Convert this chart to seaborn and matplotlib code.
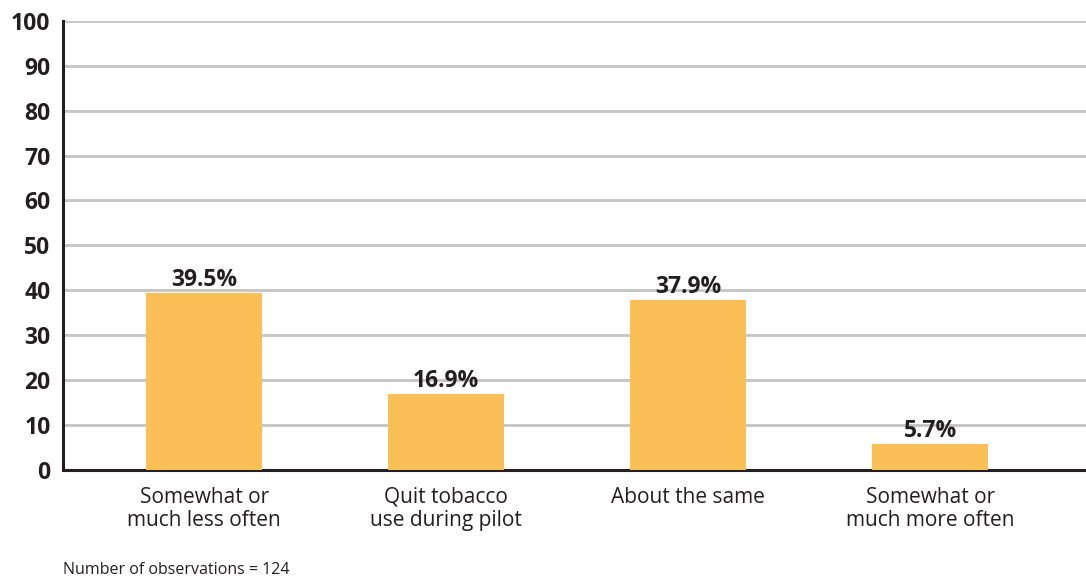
import numpy as np
import pandas as pd
import matplotlib
matplotlib.use('Agg')
import matplotlib.pyplot as plt
import seaborn as sns

categories = ['Somewhat or\nmuch less often', 'Quit tobacco\nuse during pilot',
              'About the same', 'Somewhat or\nmuch more often']
values = [39.5, 16.9, 37.9, 5.7]
value_labels = ['39.5%', '16.9%', '37.9%', '5.7%']
y_ticks = [0, 10, 20, 30, 40, 50, 60, 70, 80, 90, 100]
note = 'Number of observations = 124'

BAR_COLOR = '#FBBF57'
TEXT = '#231F20'

sns.set_theme(style='white')
plt.rcParams['font.family'] = ['Open Sans', 'DejaVu Sans']

df = pd.DataFrame({'category': categories, 'value': values})

fig = plt.figure(figsize=(10.86, 5.78), dpi=100)
ax = fig.add_axes([0.058, 0.187, 0.942, 0.777])

sns.barplot(data=df, x='category', y='value', ax=ax, color=BAR_COLOR,
            saturation=1, width=0.48, linewidth=0, zorder=3)

ax.set_ylim(0, 100)
ax.set_xlim(-0.583, 3.644)
ax.set_yticks(y_ticks)
ax.yaxis.grid(True, color='#C4C4C6', linewidth=2, zorder=0)
ax.set_axisbelow(True)

for s in ['top', 'right']:
    ax.spines[s].set_visible(False)
for s in ['left', 'bottom']:
    ax.spines[s].set_color(TEXT)
    ax.spines[s].set_linewidth(2.2)

ax.tick_params(axis='y', length=0, pad=9, labelsize=16.5, labelcolor=TEXT)
for lbl in ax.get_yticklabels():
    lbl.set_fontweight('bold')
ax.tick_params(axis='x', length=0, pad=12, labelsize=15, labelcolor=TEXT)
for lbl in ax.get_xticklabels():
    lbl.set_linespacing(1.15)
ax.set_xlabel('')
ax.set_ylabel('')

for i, (v, t) in enumerate(zip(values, value_labels)):
    ax.text(i, v + 0.2, t, ha='center', va='bottom', fontsize=16.5,
            fontweight='bold', color=TEXT)

fig.text(0.058, 0.0, note, fontsize=11.5, color=TEXT, ha='left', va='bottom')

fig.savefig('out.png', dpi=100)
